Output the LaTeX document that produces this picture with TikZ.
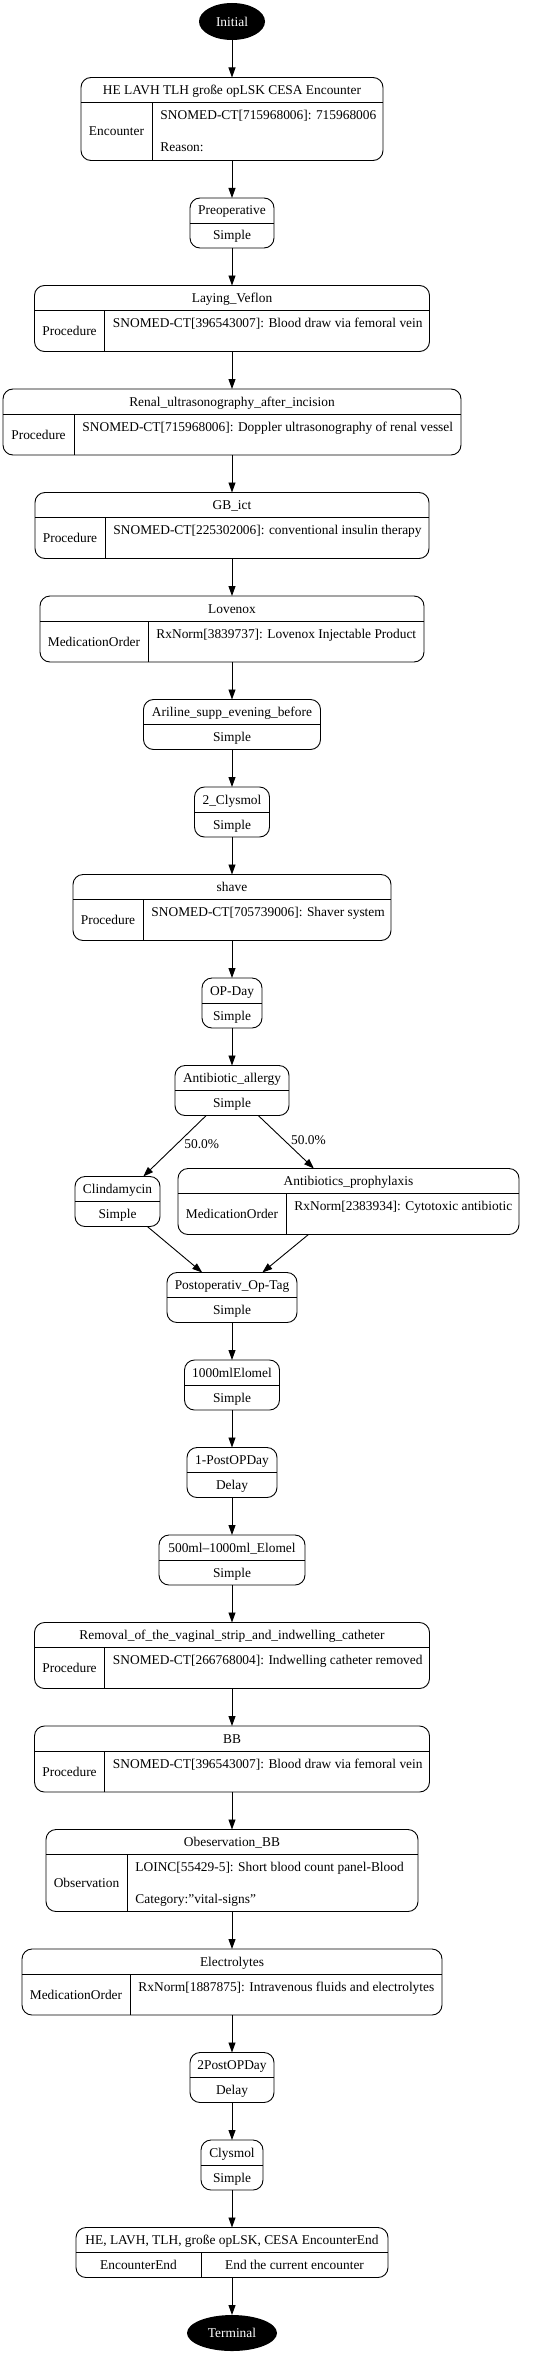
\documentclass[tikz,border=0pt]{standalone}
\usepackage{fontspec}
\setmainfont{Liberation Serif}
\usetikzlibrary{positioning}
\usetikzlibrary{arrows.meta}
\usetikzlibrary{shapes.geometric}
\tikzset{node distance=37.5pt, % Gap between two boxes of the chain
every node/.style={font=\fontsize{13.4}{16}\selectfont},
act/.style={ % Outer frame of each step
draw,
rounded corners=10pt,
outer sep=0pt,
inner sep=0pt},
endpoint/.style={ % Start and end states
ellipse,
fill=black,
text=white,
outer sep=0pt,
inner sep=0pt},
lbl/.style={inner sep=0pt, text height=11pt, text depth=2pt},
every edge/.style={ % Sets the properties for each transition
draw,
-{Triangle[length=10pt,width=7pt]}}}

% step with a title and its kind below
\newcommand{\simplestep}[5]{%
\node[act, minimum width=#3, minimum height=50pt, #2] (#1) {};
\node[lbl] (#1-t) at ([yshift=-12.5pt]#1.north) {#4};
\draw ([yshift=-25pt]#1.north west) -- ([yshift=-25pt]#1.north east);
\node[lbl] (#1-k) at ([yshift=12.5pt]#1.south) {#5};
}
% step with a title, its kind and a code
\newcommand{\codestep}[8]{%
\node[act, minimum width=#3, minimum height=#4, #2] (#1) {};
\node[lbl] (#1-t) at ([yshift=-12.5pt]#1.north) {#6};
\draw ([yshift=-25pt]#1.north west) -- ([yshift=-25pt]#1.north east);
\draw ([xshift=#5]#1.south west) -- ([xshift=#5, yshift=-25pt]#1.north west);
\node[lbl] (#1-k) at ([xshift=#5/2, yshift=(#4-25pt)/2]#1.south west) {#7};
\node[lbl, anchor=west] (#1-c) at ([xshift=#5+8pt, yshift=-37.5pt]#1.north west) {#8};
}

\begin{document}
\begin{tikzpicture}[x=1pt, y=-1pt, line width=0.9pt]
\useasboundingbox (0,0) rectangle (544,2357);

\node[endpoint, minimum width=66pt, minimum height=37pt] (ini) at (232,21.5) {Initial};
\codestep{enc}{below=of ini}{302pt}{83pt}{71pt}{HE LAVH TLH große opLSK CESA Encounter}{Encounter}{SNOMED-CT[715968006]: 715968006}
\node[lbl, anchor=west] (enc-r) at ([xshift=79pt, yshift=-70pt]enc.north west) {Reason:};
\simplestep{preop}{below=of enc}{84pt}{Preoperative}{Simple}
\codestep{laying}{below=of preop}{395pt}{66pt}{70pt}{Laying\_Veflon}{Procedure}{SNOMED-CT[396543007]: Blood draw via femoral vein}
\codestep{renal}{below=of laying}{458pt}{66pt}{71pt}{Renal\_ultrasonography\_after\_incision}{Procedure}{SNOMED-CT[715968006]: Doppler ultrasonography of renal vessel}
\codestep{gbict}{below=of renal}{394pt}{66pt}{70pt}{GB\_ict}{Procedure}{SNOMED-CT[225302006]: conventional insulin therapy}
\codestep{lovenox}{below=of gbict}{384pt}{66pt}{108pt}{Lovenox}{MedicationOrder}{RxNorm[3839737]: Lovenox Injectable Product}
\simplestep{ariline}{below=of lovenox}{177pt}{Ariline\_supp\_evening\_before}{Simple}
\simplestep{clysmolA}{below=of ariline}{75pt}{2\_Clysmol}{Simple}
\codestep{shave}{below=of clysmolA}{318pt}{66pt}{70pt}{shave}{Procedure}{SNOMED-CT[705739006]: Shaver system}
\simplestep{opday}{below=of shave}{60pt}{OP-Day}{Simple}
\simplestep{allergy}{below=of opday}{114pt}{Antibiotic\_allergy}{Simple}
\simplestep{clinda}{below=61pt of allergy, xshift=-114.5pt}{85pt}{Clindamycin}{Simple}
\codestep{prophy}{below=53pt of allergy, xshift=116.5pt}{341pt}{66pt}{108pt}{Antibiotics\_prophylaxis}{MedicationOrder}{RxNorm[2383934]: Cytotoxic antibiotic}
\simplestep{postop}{below=157pt of allergy}{130pt}{Postoperativ\_Op-Tag}{Simple}
\simplestep{elomelA}{below=of postop}{95pt}{1000mlElomel}{Simple}
\simplestep{dayA}{below=of elomelA}{90pt}{1-PostOPDay}{Delay}
\simplestep{elomelB}{below=of dayA}{146pt}{500ml--1000ml\_Elomel}{Simple}
\codestep{removal}{below=of elomelB}{395pt}{66pt}{70pt}{Removal\_of\_the\_vaginal\_strip\_and\_indwelling\_catheter}{Procedure}{SNOMED-CT[266768004]: Indwelling catheter removed}
\codestep{bb}{below=of removal}{395pt}{66pt}{70pt}{BB}{Procedure}{SNOMED-CT[396543007]: Blood draw via femoral vein}
\codestep{obs}{below=of bb}{372pt}{82pt}{81pt}{Obeservation\_BB}{Observation}{LOINC[55429-5]: Short blood count panel-Blood}
\node[lbl, anchor=west] (obs-r) at ([xshift=89pt, yshift=-69pt]obs.north west) {Category:"vital-signs"};
\codestep{electro}{below=of obs}{420pt}{66pt}{108pt}{Electrolytes}{MedicationOrder}{RxNorm[1887875]: Intravenous fluids and electrolytes}
\simplestep{dayB}{below=of electro}{84pt}{2PostOPDay}{Delay}
\simplestep{clysmolB}{below=of dayB}{62pt}{Clysmol}{Simple}

% end of the encounter
\node[act, minimum width=312pt, minimum height=50pt, below=of clysmolB] (encend) {};
\node[lbl] (encend-t) at ([yshift=-12.5pt]encend.north) {HE, LAVH, TLH, große opLSK, CESA EncounterEnd};
\draw ([yshift=-25pt]encend.north west) -- ([yshift=-25pt]encend.north east);
\draw ([xshift=125pt]encend.south west) -- ([xshift=125pt, yshift=-25pt]encend.north west);
\node[lbl] (encend-k) at ([xshift=62.5pt, yshift=12.5pt]encend.south west) {EncounterEnd};
\node[lbl] (encend-c) at ([xshift=218.5pt, yshift=12.5pt]encend.south west) {End the current encounter};
\node[endpoint, minimum width=90pt, minimum height=36pt, below=of encend] (term) {Terminal};

\draw (ini) edge (enc);
\draw (enc) edge (preop);
\draw (preop) edge (laying);
\draw (laying) edge (renal);
\draw (renal) edge (gbict);
\draw (gbict) edge (lovenox);
\draw (lovenox) edge (ariline);
\draw (ariline) edge (clysmolA);
\draw (clysmolA) edge (shave);
\draw (shave) edge (opday);
\draw (opday) edge (allergy);
\draw (allergy) edge node[pos=0.47, right=4pt] {50.0\%} (clinda);
\draw (allergy) edge node[pos=0.47, right=3pt] {50.0\%} (prophy);
\draw (clinda) edge (postop);
\draw (prophy) edge (postop);
\draw (postop) edge (elomelA);
\draw (elomelA) edge (dayA);
\draw (dayA) edge (elomelB);
\draw (elomelB) edge (removal);
\draw (removal) edge (bb);
\draw (bb) edge (obs);
\draw (obs) edge (electro);
\draw (electro) edge (dayB);
\draw (dayB) edge (clysmolB);
\draw (clysmolB) edge (encend);
\draw (encend) edge (term);
\end{tikzpicture}
\end{document}
